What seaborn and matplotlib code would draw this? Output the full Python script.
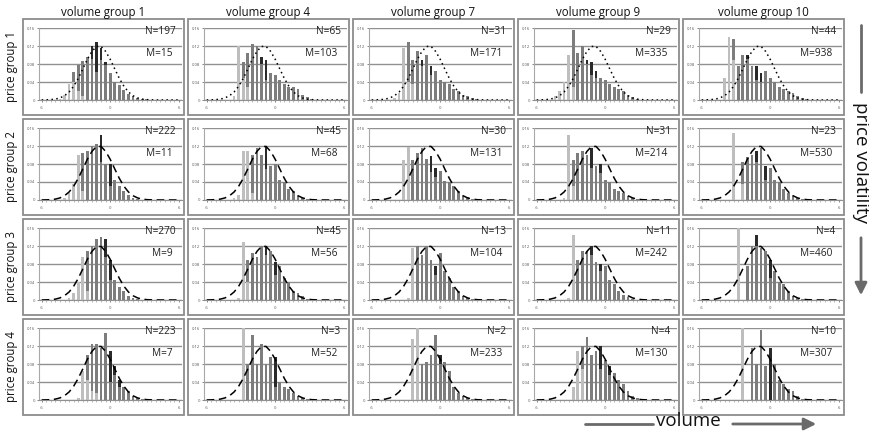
import numpy as np
import seaborn as sns
import matplotlib
matplotlib.use("Agg")
import matplotlib.pyplot as plt
from matplotlib.patches import Rectangle, FancyArrowPatch
from matplotlib.lines import Line2D

W, H = 869, 433

COL_TITLES = ["volume group 1", "volume group 4", "volume group 7", "volume group 9", "volume group 10"]
ROW_TITLES = ["price group 1", "price group 2", "price group 3", "price group 4"]

N_VALUES = [[197, 65, 31, 29, 44],
            [222, 45, 30, 31, 23],
            [270, 45, 13, 11, 4],
            [223, 3, 2, 4, 10]]
M_VALUES = [[15, 103, 171, 335, 938],
            [11, 68, 131, 214, 530],
            [9, 56, 104, 242, 460],
            [7, 52, 233, 130, 307]]

# categories of the histogram (-6 .. 6)
CATS = [-6.0, -5.6, -5.2, -4.8, -4.4, -4.0, -3.6, -3.2, -2.8, -2.4, -2.0, -1.6, -1.2,
        -0.8, -0.4, 0.0, 0.4, 0.8, 1.2, 1.6, 2.0, 2.4, 2.8, 3.2, 3.6, 4.0, 4.4, 4.8,
        5.2, 5.6, 6.0]
# reference (normal) curve, same in every panel
CURVE = [0.0001, 0.0003, 0.0008, 0.002, 0.0046, 0.0095, 0.0178, 0.0306, 0.048, 0.069,
         0.0905, 0.108, 0.119, 0.119, 0.108, 0.0905, 0.069, 0.048, 0.0306, 0.0178,
         0.0095, 0.0046, 0.002, 0.0008, 0.0003, 0.0001, 0, 0, 0, 0, 0]

BAR_X = CATS[4:27]      # -4.4 .. 4.4
LIGHT_X = CATS[4:13]    # -4.4 .. -1.2

# total bar heights (in %), per row, per column
TOTAL = [
    [[0.3, 1.1, 3.6, 6.2, 7.8, 8.6, 9.6, 12.0, 12.8, 11.5, 8.5, 6.0, 4.0, 3.4, 2.2, 1.4, 0.9, 0.5, 0.3, 0.2, 0.1, 0, 0],
     [0, 0, 1.0, 12.0, 8.5, 10.5, 12.5, 12.0, 9.5, 9.0, 6.0, 5.5, 4.5, 3.5, 3.0, 2.8, 2.5, 1.2, 0.6, 0.3, 0.1, 0, 0],
     [0, 0.5, 1.5, 11.5, 13.0, 9.0, 11.0, 9.0, 10.0, 7.5, 6.5, 4.5, 4.0, 3.5, 2.5, 2.0, 1.2, 0.8, 0.4, 0.2, 0, 0, 0],
     [0.8, 2.0, 4.0, 10.0, 15.5, 10.5, 12.0, 9.0, 8.5, 6.5, 5.0, 4.5, 3.5, 3.0, 2.5, 2.0, 1.2, 0.6, 0.3, 0.1, 0, 0, 0],
     [0, 5.0, 14.0, 13.5, 7.5, 10.0, 10.0, 7.5, 7.5, 6.0, 6.5, 5.0, 4.0, 3.0, 2.5, 2.0, 1.5, 0.8, 0.4, 0.2, 0.1, 0, 0]],
    [[0, 0.5, 1.5, 3.5, 10.0, 10.5, 11.0, 12.0, 12.5, 14.5, 8.0, 8.0, 4.5, 3.0, 2.0, 1.0, 0.5, 0.3, 0.1, 0, 0, 0, 0],
     [0, 0, 0.5, 1.0, 11.0, 11.0, 10.0, 11.5, 10.0, 12.0, 7.5, 8.0, 4.5, 4.0, 2.5, 2.0, 1.2, 0.5, 0.3, 0.1, 0, 0, 0],
     [0, 0, 0, 8.8, 11.8, 8.9, 10.5, 11.5, 9.1, 9.8, 7.1, 6.4, 4.2, 4.0, 3.1, 2.1, 1.2, 0.7, 0.3, 0.1, 0, 0, 0],
     [0, 0, 0.5, 14.5, 9.0, 10.5, 11.0, 10.0, 11.5, 7.5, 8.0, 4.5, 4.0, 2.5, 2.0, 1.5, 0.8, 0.4, 0.2, 0.1, 0, 0, 0],
     [0, 0, 0, 15.0, 0, 8.5, 9.5, 10.0, 11.0, 11.5, 7.5, 7.0, 4.5, 4.0, 2.5, 1.5, 1.0, 0.5, 0.2, 0, 0, 0, 0]],
    [[0, 0, 0.5, 1.5, 4.0, 9.5, 11.0, 12.0, 13.5, 14.0, 13.5, 9.0, 4.5, 3.0, 2.0, 1.0, 0.5, 0.3, 0.1, 0, 0, 0, 0],
     [0, 0, 0, 0.5, 13.0, 9.0, 10.5, 9.5, 12.0, 12.0, 11.0, 8.5, 7.5, 5.0, 4.0, 2.0, 1.5, 0.8, 0.3, 0.1, 0, 0, 0],
     [0, 0, 0, 0, 0.5, 11.5, 12.0, 10.0, 12.0, 9.0, 7.5, 10.5, 6.5, 5.0, 3.0, 2.0, 1.0, 0.5, 0.2, 0, 0, 0, 0],
     [0, 0, 0, 0.5, 14.5, 9.0, 11.0, 11.0, 12.0, 8.5, 8.0, 7.5, 4.5, 3.5, 2.0, 1.2, 0.6, 0.2, 0, 0, 0, 0, 0],
     [0, 0, 0, 0, 16.0, 0, 7.5, 12.0, 14.5, 11.5, 11.0, 9.0, 6.5, 4.0, 3.5, 2.0, 1.0, 0.5, 0.2, 0, 0, 0, 0]],
    [[0, 0, 0, 0, 0.5, 6.5, 10.0, 12.5, 12.5, 11.5, 15.0, 11.0, 7.5, 4.5, 3.0, 2.0, 1.0, 0.5, 0.2, 0, 0, 0, 0],
     [0, 0, 0, 0, 16.0, 8.0, 14.5, 8.0, 12.5, 8.0, 9.5, 9.5, 4.0, 3.0, 2.5, 1.5, 1.0, 0.5, 0.2, 0, 0, 0, 0],
     [0, 0, 0, 0, 0, 13.5, 16.0, 8.0, 8.5, 10.0, 14.5, 10.0, 8.5, 6.5, 3.0, 1.5, 1.0, 0.5, 0.2, 0, 0, 0, 0],
     [0, 0, 0, 0, 3.0, 11.0, 12.0, 14.0, 10.0, 11.0, 12.0, 9.0, 7.5, 6.0, 4.5, 3.5, 2.0, 1.0, 0.5, 0.2, 0, 0, 0],
     [0, 0, 0, 0, 0, 16.0, 0, 11.5, 8.0, 15.5, 7.5, 11.5, 8.0, 4.5, 3.5, 2.5, 2.0, 1.0, 0.3, 0, 0, 0, 0]],
]

# light grey part (bottom of the bar), categories -4.4 .. -1.2
LIGHT = [
    [[0.3, 1.1, 3.6, 4.0, 2.0, 1.0, 0, 0, 0],
     [0, 0, 1.0, 12.0, 5.0, 3.0, 0, 0, 0],
     [0, 0.5, 1.5, 11.5, 4.0, 3.5, 0, 0, 0],
     [0.8, 2.0, 4.0, 10.0, 3.0, 0, 0, 0, 0],
     [0, 5.0, 14.0, 9.0, 0, 0, 0, 0, 0]],
    [[0, 0.5, 1.5, 3.5, 10.0, 2.0, 0, 0, 0],
     [0, 0, 0.5, 1.0, 11.0, 11.0, 1.5, 0, 0],
     [0, 0, 0, 8.8, 11.8, 0, 0, 0, 0],
     [0, 0, 0.5, 14.5, 3.0, 0, 0, 0, 0],
     [0, 0, 0, 15.0, 0, 3.5, 0, 0, 0]],
    [[0, 0, 0.5, 1.5, 4.0, 9.5, 2.0, 0, 0],
     [0, 0, 0, 0.5, 13.0, 4.0, 0, 0, 0],
     [0, 0, 0, 0, 0.5, 11.5, 0, 0, 0],
     [0, 0, 0, 0.5, 14.5, 0, 0, 0, 0],
     [0, 0, 0, 0, 16.0, 0, 0, 0, 0]],
    [[0, 0, 0, 0, 0.5, 6.5, 4.5, 2.0, 1.5],
     [0, 0, 0, 0, 16.0, 0, 0, 0, 0],
     [0, 0, 0, 0, 0, 13.5, 16.0, 0, 0],
     [0, 0, 0, 0, 3.0, 11.0, 7.0, 0, 0],
     [0, 0, 0, 0, 0, 16.0, 0, 0, 0]],
]

# dark part (top of the bar), categories -2.0 .. 0.8
DARK = [
    [[0, 2.8, 6.5, 2.5, 0.8, 0, 0, 0],
     [0, 0, 1.5, 4.5, 0, 0, 0, 0],
     [0, 1.5, 0, 2.0, 0, 0, 0, 0],
     [0, 1.0, 3.0, 1.5, 0, 0, 0, 0],
     [1.0, 0, 3.0, 2.0, 0, 0, 0, 0]],
    [[0, 0, 0, 6.0, 0, 5.0, 0, 0],
     [0, 0, 0, 5.0, 0, 0, 0, 0],
     [0, 0, 0, 3.5, 2.0, 0, 0, 0],
     [0, 0, 4.5, 0, 2.0, 0, 0, 0],
     [0, 0, 2.5, 0, 3.0, 0, 0, 0]],
    [[0, 0, 0, 0, 4.0, 4.5, 0, 0],
     [0, 0, 0, 2.0, 0, 3.0, 0, 0],
     [0, 0, 0, 0, 2.0, 0, 0, 0],
     [0, 0, 2.0, 0, 1.5, 0, 0, 0],
     [0, 0, 2.5, 0, 0, 4.0, 0, 0]],
    [[0, 0, 0, 0, 0, 7.0, 2.0, 1.5],
     [0, 0, 0, 0, 0, 6.5, 0, 0],
     [0, 0, 0, 0, 0, 2.0, 0, 0],
     [0, 0, 0, 0, 5.0, 0, 2.0, 0],
     [0, 0, 0, 0, 0, 11.5, 0, 0]],
]

LIGHT_C = "#bebebe"
MID_C = "#7d7d7d"
DARK_C = "#2a2a2a"
FRAME_C = "#8c8c8c"
ARROW_C = "#6a6a6a"
BAR_W = 0.62

sns.set_theme(style="white")
plt.rcParams["font.family"] = ["Open Sans", "DejaVu Sans"]


def fx(px):
    return px / W


def fy(py):
    return 1 - py / H


fig = plt.figure(figsize=(W / 100, H / 100), dpi=100)

for r in range(4):
    for c in range(5):
        bl = 22.7 + 165 * c
        bt = 19 + 100 * r
        # frame around each small chart
        fig.add_artist(Rectangle((fx(bl), fy(bt + 96)), 161 / W, 96 / H,
                                 transform=fig.transFigure, fill=False,
                                 ec=FRAME_C, lw=1.3))
        ax = fig.add_axes([fx(bl + 16), fy(bt + 81), 143 / W, 72 / H])

        total = np.array(TOTAL[r][c]) / 100
        dark = np.zeros(len(BAR_X))
        dark[6:14] = np.array(DARK[r][c]) / 100
        light = np.array(LIGHT[r][c]) / 100

        # stacked bars: dark on top, mid grey in the middle, light at the bottom
        sns.barplot(x=BAR_X, y=total, native_scale=True, color=DARK_C, saturation=1,
                    width=BAR_W, linewidth=0, errorbar=None, ax=ax)
        sns.barplot(x=BAR_X, y=total - dark, native_scale=True, color=MID_C, saturation=1,
                    width=BAR_W, linewidth=0, errorbar=None, ax=ax)
        sns.barplot(x=LIGHT_X, y=light, native_scale=True, color=LIGHT_C, saturation=1,
                    width=BAR_W, linewidth=0, errorbar=None, ax=ax)

        ls = (0, (1, 2.2)) if r == 0 else (0, (5, 3))
        sns.lineplot(x=CATS, y=CURVE, color="black", linestyle=ls, lw=1.1, ax=ax, zorder=5)

        ax.set_xlim(-6.26, 6.26)
        ax.set_ylim(0, 0.16)
        ax.set_xlabel("")
        ax.set_ylabel("")
        ax.set_yticks([0, 0.04, 0.08, 0.12, 0.16])
        ax.set_yticklabels(["0", "0.04", "0.08", "0.12", "0.16"])
        ax.set_xticks([-6, 0, 6])
        ax.set_xticklabels(["-6", "0", "6"])
        ax.set_xticks(CATS, minor=True)
        ax.tick_params(axis="y", labelsize=3, length=1.5, width=0.5, pad=1,
                       colors="#555555", left=True)
        ax.tick_params(axis="x", which="major", labelsize=3, length=1.5, width=0.5,
                       pad=3, colors="#555555", bottom=True)
        ax.tick_params(axis="x", which="minor", length=1.2, width=0.4,
                       color="#888888", bottom=True)
        ax.yaxis.grid(True, color="#909090", lw=1.0)
        ax.xaxis.grid(False)
        ax.set_axisbelow(True)
        for s in ["top", "right"]:
            ax.spines[s].set_visible(False)
        ax.spines["left"].set_color("#a8a8a8")
        ax.spines["left"].set_linewidth(0.8)
        ax.spines["bottom"].set_color("#909090")
        ax.spines["bottom"].set_linewidth(0.8)
        ax.set_facecolor("none")

        fig.text(fx(bl + 153), fy(bt + 13), f"N={N_VALUES[r][c]}", ha="right",
                 va="center", fontsize=7.3, color="#222222")
        fig.text(fx(bl + 150), fy(bt + 34), f"M={M_VALUES[r][c]}", ha="right",
                 va="center", fontsize=7.3, color="#222222")

for c, t in enumerate(COL_TITLES):
    fig.text(fx(22.7 + 165 * c + 80.5), fy(16), t, ha="center", va="baseline",
             fontsize=8.3, color="#111111")

for r, t in enumerate(ROW_TITLES):
    fig.text(fx(12), fy(19 + 100 * r + 48), t, ha="center", va="center",
             rotation=90, fontsize=8.3, color="#111111")

# price volatility axis on the right
fig.add_artist(Line2D([fx(861), fx(861)], [fy(25), fy(92)], transform=fig.transFigure,
                      color=ARROW_C, lw=2.0))
fig.text(fx(861), fy(163), "price volatility", rotation=-90, ha="center", va="center",
         fontsize=13.5, color="#111111")
fig.add_artist(FancyArrowPatch((fx(861), fy(235)), (fx(861), fy(298)),
                               transform=fig.transFigure, arrowstyle="-|>,head_length=0.6,head_width=0.3",
                               mutation_scale=12, color=ARROW_C, lw=2.0))

# volume axis at the bottom
fig.add_artist(Line2D([fx(585), fx(653)], [fy(424), fy(424)], transform=fig.transFigure,
                      color=ARROW_C, lw=2.0))
fig.text(fx(688), fy(421), "volume", ha="center", va="center", fontsize=13.5, color="#111111")
fig.add_artist(FancyArrowPatch((fx(730), fy(424)), (fx(819), fy(424)),
                               transform=fig.transFigure, arrowstyle="-|>,head_length=0.6,head_width=0.3",
                               mutation_scale=12, color=ARROW_C, lw=2.0))

fig.savefig("out.png", dpi=100)
